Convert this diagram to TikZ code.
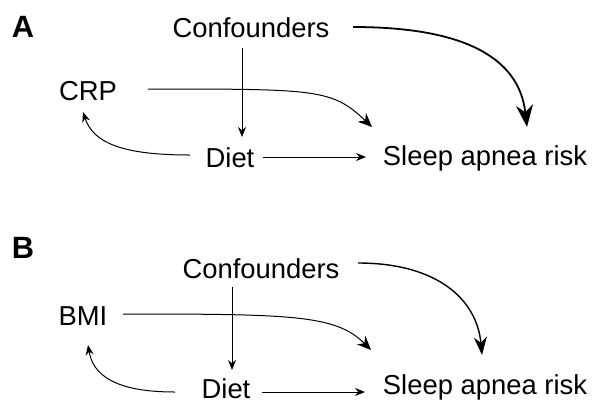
\documentclass[tikz,border=0pt]{standalone}
\usepackage{fontspec}
\setmainfont{Liberation Sans}
\usetikzlibrary{arrows.meta, positioning}

\begin{document}
\begin{tikzpicture}[x=0.5pt, y=-0.5pt,
    var/.style={font=\fontsize{13.7}{16}\selectfont, anchor=base, inner sep=0pt},
    panel/.style={font=\fontsize{15.4}{18}\selectfont\bfseries, anchor=base, inner sep=0pt},
    arrS/.style={line width=0.5pt, -{Stealth[length=5pt,width=4pt]}},
    arrM/.style={line width=0.5pt, -{Stealth[length=7pt,width=6pt]}},
    arrL/.style={line width=0.9pt, -{Stealth[length=11pt,width=8.5pt]}}]

    \useasboundingbox (0,0) rectangle (592,402);

    % panel A
    \node[panel] (labA)   at (23,37)   {A};
    \node[var]   (confA)  at (251,37)  {Confounders};
    \node[var]   (crpA)   at (88,100)  {CRP};
    \node[var]   (dietA)  at (230,167) {Diet};
    \node[var]   (sleepA) at (485,165) {Sleep apnea risk};

    \draw[arrS] ([shift={(-9,11)}]confA.base) -- ([shift={(12,-30)}]dietA.base);
    \draw[arrS] ([shift={(33,-10)}]dietA.base) -- ([shift={(-119,-8)}]sleepA.base);
    \draw[arrS] ([shift={(-40,-12)}]dietA.base)
        .. controls +(-70,0) and +(10,30) .. ([shift={(-5,12)}]crpA.base);
    \draw[arrM] ([shift={(60,-11)}]crpA.base)
        .. controls +(170,0) and +(-40,-38) .. ([shift={(-113,-38)}]sleepA.base);
    \draw[arrL] ([shift={(102,-10)}]confA.base)
        .. controls +(110,0) and +(-8,-70) .. ([shift={(42,-38)}]sleepA.base);

    % panel B
    \node[panel] (labB)   at (23,258)  {B};
    \node[var]   (confB)  at (261,278) {Confounders};
    \node[var]   (bmiB)   at (83,325)  {BMI};
    \node[var]   (dietB)  at (226,398) {Diet};
    \node[var]   (sleepB) at (485,394) {Sleep apnea risk};

    \draw[arrS] ([shift={(-29,9)}]confB.base) -- ([shift={(6,-28)}]dietB.base);
    \draw[arrS] ([shift={(36,-6)}]dietB.base) -- ([shift={(-120,-2)}]sleepB.base);
    \draw[arrS] ([shift={(-51,-6)}]dietB.base)
        .. controls +(-60,0) and +(5,30) .. ([shift={(5,20)}]bmiB.base);
    \draw[arrM] ([shift={(40,-11)}]bmiB.base)
        .. controls +(170,0) and +(-35,-35) .. ([shift={(-114,-44)}]sleepB.base);
    \draw[arrL, line width=0.7pt, -{Stealth[length=9pt,width=6.5pt]}] ([shift={(97,-15)}]confB.base)
        .. controls +(80,0) and +(-5,-55) .. ([shift={(-3,-39)}]sleepB.base);
\end{tikzpicture}
\end{document}
